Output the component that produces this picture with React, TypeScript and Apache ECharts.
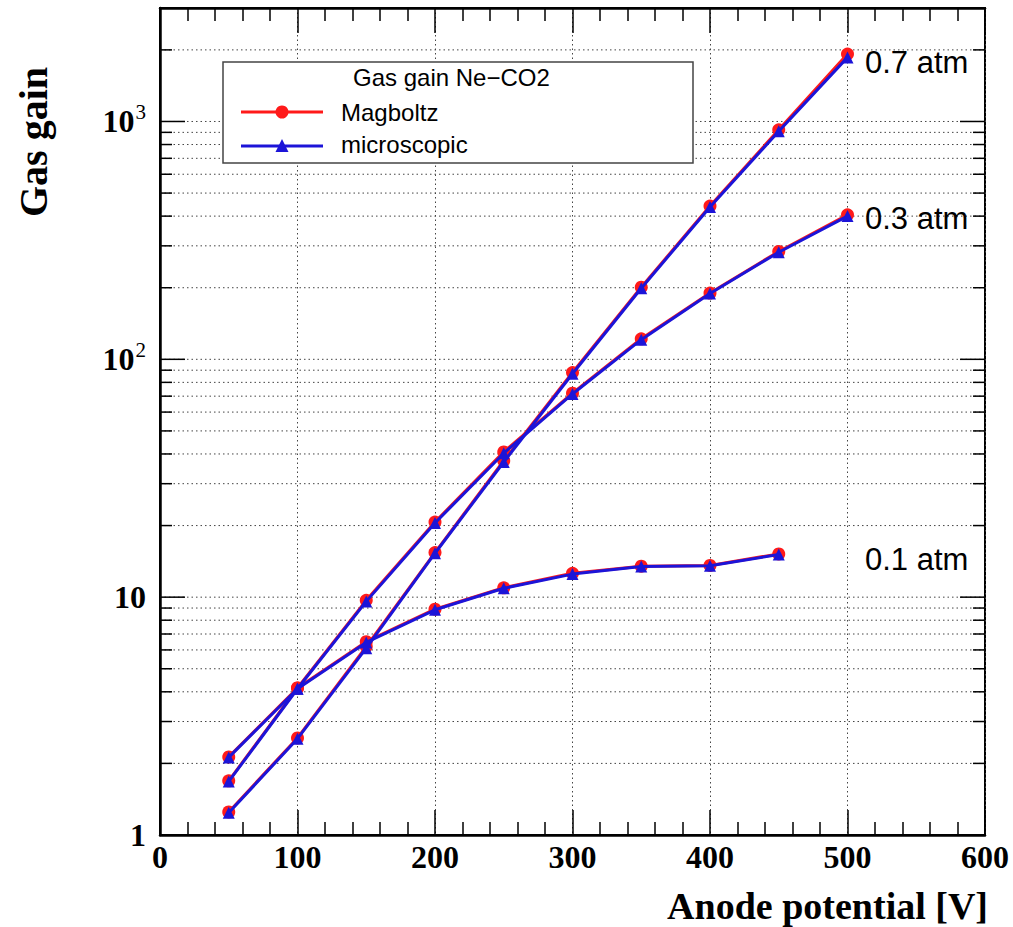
import React, { useEffect, useRef } from "react";
import * as echarts from "echarts";

const voltages = [50, 100, 150, 200, 250, 300, 350, 400, 450, 500];
const voltages01 = [50, 100, 150, 200, 250, 300, 350, 400, 450];

const magboltz07 = [1.25, 2.56, 6.2, 15.4, 37.5, 88, 201, 441, 923, 1920];
const micro07 = [1.24, 2.54, 6.1, 15.3, 37.0, 87, 199, 437, 910, 1860];
const magboltz03 = [1.69, 4.15, 9.7, 20.7, 40.8, 72, 122, 190, 284, 405];
const micro03 = [1.68, 4.12, 9.6, 20.5, 40.3, 71.5, 121, 189, 282, 400];
const magboltz01 = [2.13, 4.15, 6.5, 8.9, 10.95, 12.6, 13.5, 13.6, 15.2];
const micro01 = [2.12, 4.12, 6.45, 8.85, 10.9, 12.5, 13.45, 13.55, 15.1];

const pressureLabels = ["0.7 atm", "0.3 atm", "0.1 atm"];
const legendTitle = "Gas gain Ne\u2212CO2";
const legendNames = ["Magboltz", "microscopic"];
const xTitle = "Anode potential [V]";
const yTitle = "Gas gain";

const decades = [1, 10, 100, 1000];
const minorMultipliers = [2, 3, 4, 5, 6, 7, 8, 9];
const yMax = 3000;

const RED = "#ff1a1a";
const BLUE = "#1c14d8";
const SERIF = "'Liberation Serif', 'Times New Roman', serif";
const SANS = "'Liberation Sans', Arial, Helvetica, sans-serif";

function pairs(xs: number[], ys: number[]) {
  return xs.map((x, i) => [x, ys[i]]);
}

export default function App() {
  const ref = useRef<HTMLDivElement>(null);
  useEffect(() => {
    if (!ref.current) return;
    const chart = echarts.init(ref.current, null, { renderer: "svg" });

    const gridData: number[][] = [];
    decades.forEach((d) => {
      if (d > 1) gridData.push([0, d, 1]);
      minorMultipliers.forEach((m) => {
        if (d * m < yMax) gridData.push([0, d * m, 0]);
      });
    });

    const lineSeries = (name: string, xs: number[], ys: number[], color: string, symbol: string, size: number, z: number) => ({
      type: "line",
      name,
      data: pairs(xs, ys),
      symbol,
      symbolSize: size,
      showAllSymbol: true,
      lineStyle: { color, width: 3 },
      itemStyle: { color },
      z,
      silent: true,
    });

    const option: any = {
      animation: false,
      backgroundColor: "#ffffff",
      grid: { left: 160, top: 8, right: 28, bottom: 92, show: true, borderColor: "#000", borderWidth: 2, backgroundColor: "transparent" },
      xAxis: [
        {
          type: "value",
          min: 0,
          max: 600,
          interval: 100,
          position: "bottom",
          axisLine: { show: true, lineStyle: { color: "#000", width: 2.5 } },
          axisTick: { show: true, inside: true, length: 25, lineStyle: { color: "#000", width: 1.5 } },
          minorTick: { show: true, splitNumber: 5, length: 13, lineStyle: { color: "#000", width: 1.5 } },
          splitLine: { show: true, lineStyle: { color: "#444", width: 1, type: [1.5, 3] } },
          axisLabel: { show: true, margin: 6, color: "#000", fontFamily: SERIF, fontWeight: "bold", fontSize: 32 },
        },
        {
          type: "value",
          min: 0,
          max: 600,
          interval: 100,
          position: "top",
          axisLine: { show: true, lineStyle: { color: "#000", width: 2.5 } },
          axisTick: { show: true, inside: true, length: 25, lineStyle: { color: "#000", width: 1.5 } },
          minorTick: { show: true, splitNumber: 5, length: 13, lineStyle: { color: "#000", width: 1.5 } },
          splitLine: { show: false },
          axisLabel: { show: false },
        },
      ],
      yAxis: [
        {
          type: "log",
          logBase: 10,
          min: 1,
          max: yMax,
          axisLine: { show: true, lineStyle: { color: "#000", width: 2.5 } },
          axisTick: { show: false },
          splitLine: { show: false },
          axisLabel: {
            show: true,
            margin: 14,
            showMaxLabel: false,
            color: "#000",
            fontFamily: SERIF,
            fontWeight: "bold",
            fontSize: 32,
            formatter: (v: number) => {
              const e = Math.round(Math.log10(v));
              if (e === 0) return "{b|1}";
              if (e === 1) return "{b|10}";
              return "{b|10}{s|" + e + "}";
            },
            rich: {
              b: { fontFamily: SERIF, fontWeight: "bold", fontSize: 32, color: "#000" },
              s: { fontFamily: SERIF, fontWeight: "normal", fontSize: 21, color: "#000", padding: [0, 0, 18, 1] },
            },
          },
        },
      ],
      series: [
        {
          type: "custom",
          name: "grid",
          silent: true,
          xAxisIndex: 0,
          yAxisIndex: 0,
          encode: { x: 0, y: 1 },
          data: gridData,
          z: 1,
          renderItem: (params: any, api: any) => {
            const v = api.value(1);
            const major = api.value(2) === 1;
            const pL = api.coord([0, v]);
            const pR = api.coord([600, v]);
            const len = major ? 25 : 12;
            return {
              type: "group",
              children: [
                { type: "line", shape: { x1: pL[0], y1: pL[1], x2: pR[0], y2: pR[1] }, style: { stroke: "#444", lineWidth: 1, lineDash: [1.5, 3] } },
                { type: "line", shape: { x1: pL[0], y1: pL[1], x2: pL[0] + len, y2: pL[1] }, style: { stroke: "#000", lineWidth: 1.5 } },
                { type: "line", shape: { x1: pR[0] - len, y1: pR[1], x2: pR[0], y2: pR[1] }, style: { stroke: "#000", lineWidth: 1.5 } },
              ],
            };
          },
        },
        lineSeries("Magboltz 0.7", voltages, magboltz07, RED, "circle", 13, 3),
        lineSeries("Magboltz 0.3", voltages, magboltz03, RED, "circle", 13, 3),
        lineSeries("Magboltz 0.1", voltages01, magboltz01, RED, "circle", 13, 3),
        lineSeries("microscopic 0.7", voltages, micro07, BLUE, "triangle", 12, 4),
        lineSeries("microscopic 0.3", voltages, micro03, BLUE, "triangle", 12, 4),
        lineSeries("microscopic 0.1", voltages01, micro01, BLUE, "triangle", 12, 4),
      ],
      graphic: [
        {
          type: "rect",
          z: 100,
          shape: { x: 223, y: 62, width: 470, height: 101 },
          style: { fill: "#fff", stroke: "#444", lineWidth: 1.5 },
        },
        {
          type: "text",
          z: 101,
          x: 353,
          y: 77,
          style: { text: legendTitle, fill: "#000", font: `24px ${SANS}`, textAlign: "left", textVerticalAlign: "middle" },
        },
        { type: "line", z: 101, shape: { x1: 241, y1: 112, x2: 323, y2: 112 }, style: { stroke: RED, lineWidth: 3 } },
        { type: "circle", z: 102, shape: { cx: 282, cy: 112, r: 6.5 }, style: { fill: RED } },
        {
          type: "text",
          z: 101,
          x: 341,
          y: 112,
          style: { text: legendNames[0], fill: "#000", font: `24px ${SANS}`, textAlign: "left", textVerticalAlign: "middle" },
        },
        { type: "line", z: 101, shape: { x1: 241, y1: 146, x2: 323, y2: 146 }, style: { stroke: BLUE, lineWidth: 3 } },
        { type: "polygon", z: 102, shape: { points: [[282, 139], [275.5, 152], [288.5, 152]] }, style: { fill: BLUE } },
        {
          type: "text",
          z: 101,
          x: 341,
          y: 144,
          style: { text: legendNames[1], fill: "#000", font: `24px ${SANS}`, textAlign: "left", textVerticalAlign: "middle" },
        },
        {
          type: "text",
          z: 101,
          x: 865,
          y: 62,
          style: { text: pressureLabels[0], fill: "#000", font: `31px ${SANS}`, textAlign: "left", textVerticalAlign: "middle" },
        },
        {
          type: "text",
          z: 101,
          x: 865,
          y: 218,
          style: { text: pressureLabels[1], fill: "#000", font: `31px ${SANS}`, textAlign: "left", textVerticalAlign: "middle" },
        },
        {
          type: "text",
          z: 101,
          x: 865,
          y: 559,
          style: { text: pressureLabels[2], fill: "#000", font: `31px ${SANS}`, textAlign: "left", textVerticalAlign: "middle" },
        },
        {
          type: "text",
          z: 101,
          x: 33,
          y: 142,
          rotation: Math.PI / 2,
          style: { text: yTitle, fill: "#000", font: `bold 40px ${SERIF}`, textAlign: "center", textVerticalAlign: "middle" },
        },
        {
          type: "text",
          z: 101,
          x: 988,
          y: 906,
          style: { text: xTitle, fill: "#000", font: `bold 38px ${SERIF}`, textAlign: "right", textVerticalAlign: "middle" },
        },
      ],
    };

    chart.setOption(option);
    return () => chart.dispose();
  }, []);

  return <div ref={ref} style={{ position: "fixed", left: 0, top: 0, width: 1013, height: 927, background: "#fff" }} />;
}
